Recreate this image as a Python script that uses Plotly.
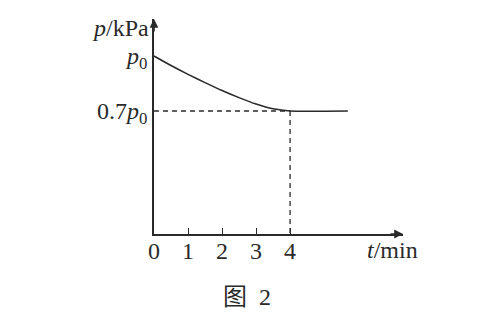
import plotly.graph_objects as go

# ---- data (values in units of p0, time in min) ----
t_curve = [0, 0.5, 1, 1.5, 2, 2.5, 3, 3.5, 4, 5.7]
p_curve = [1.0, 0.948, 0.90, 0.855, 0.812, 0.773, 0.738, 0.712, 0.70, 0.70]
x_ticks = [0, 1, 2, 3, 4]
x_tick_labels = ["0", "1", "2", "3", "4"]
y_ticks = [0.7, 1.0]
y_tick_labels = ["0.7<i>p</i><sub>0</sub>", "<i>p</i><sub>0</sub>"]
t_mark = 4
p_mark = 0.7
X_RANGE = [0, 7.32]
Y_RANGE = [0.029, 1.202]

INK = "#2a2a2a"
SERIF = "Liberation Serif, Times New Roman, serif"
FS = 24

fig = go.Figure()

# solid curve
fig.add_trace(go.Scatter(x=t_curve, y=p_curve, mode="lines",
                         line=dict(color=INK, width=1.6, shape="spline", smoothing=0.6),
                         hoverinfo="skip", showlegend=False))
# dashed guide lines
fig.add_trace(go.Scatter(x=[X_RANGE[0], t_mark], y=[p_mark, p_mark], mode="lines",
                         line=dict(color=INK, width=1.3, dash="5px,4px"),
                         hoverinfo="skip", showlegend=False))
fig.add_trace(go.Scatter(x=[t_mark, t_mark], y=[p_mark, Y_RANGE[0]], mode="lines",
                         line=dict(color=INK, width=1.3, dash="5px,4px"),
                         hoverinfo="skip", showlegend=False))

fig.update_layout(
    width=486, height=332,
    margin=dict(l=154, r=83, t=19, b=98),
    paper_bgcolor="white", plot_bgcolor="white",
    font=dict(family=SERIF, size=FS, color=INK),
    xaxis=dict(range=X_RANGE, showgrid=False, zeroline=False,
               showline=True, linecolor=INK, linewidth=1.6,
               ticks="inside", ticklen=6, tickwidth=1.3, tickcolor=INK,
               tickvals=x_ticks, ticktext=x_tick_labels,
               ticklabelstandoff=-6,
               tickfont=dict(family=SERIF, size=FS, color=INK)),
    yaxis=dict(range=Y_RANGE, showgrid=False, zeroline=False,
               showline=True, linecolor=INK, linewidth=1.6,
               ticks="", tickvals=y_ticks, ticktext=y_tick_labels,
               tickfont=dict(family=SERIF, size=FS, color=INK)),
)

annotations = [
    # axis arrows
    dict(x=0, y=1, xref="x", yref="paper", text="", showarrow=True,
         ax=0, ay=14, arrowhead=2, arrowsize=1.1, arrowwidth=1.6, arrowcolor=INK),
    dict(x=1, y=0, xref="paper", yref="paper", text="", showarrow=True,
         ax=-14, ay=0, arrowhead=2, arrowsize=1.1, arrowwidth=1.6, arrowcolor=INK),
    # axis titles
    dict(x=0, y=1, xref="x", yref="paper", text="<i>p</i>/kPa", showarrow=False,
         xanchor="right", yanchor="middle", xshift=-3, yshift=-9,
         font=dict(family=SERIF, size=FS, color=INK)),
    dict(x=7.0, y=0, xref="x", yref="paper", text="<i>t</i>/min", showarrow=False,
         xanchor="center", yanchor="middle", yshift=-16,
         font=dict(family=SERIF, size=FS, color=INK)),
    # caption
    dict(x=0.375, y=0, xref="paper", yref="paper", text="图  2", showarrow=False,
         xanchor="center", yanchor="middle", yshift=-63,
         font=dict(family="Liberation Serif, Noto Sans CJK SC", size=FS, color=INK)),
]
fig.update_layout(annotations=annotations)

fig.write_html("out.html")
